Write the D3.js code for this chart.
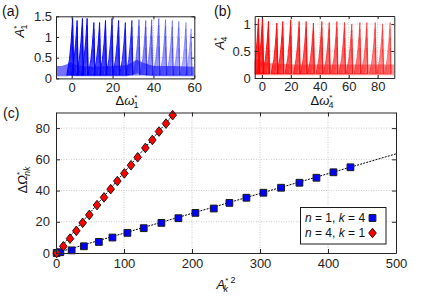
<!DOCTYPE html>
<html><head><meta charset="utf-8">
<script src="https://cdn.jsdelivr.net/npm/d3@7"></script>
<style>
body{margin:0;background:#fff}
svg{display:block;font-family:"Liberation Sans",Arial,sans-serif}
</style></head><body>
<svg id="c" width="424" height="299"></svg>
<script>
// ---------- data ----------
// panel (a): response peaks of mode 1
const aPeakX=[0.5,2.7,5.3,7.6,10.9,13.7,16.6,19.8,23,26.3,29.5,33,36.3,39.2,42.7,46,49.3,52.5,56,58.5];
const aPeakY=[1.45,1.4,1.45,1.45,1.35,1.35,1.4,1.45,1.4,1.35,1.4,1.42,1.4,1.42,1.45,1.42,1.4,1.38,1.35,1.2];
const aAlpha=[0.95,0.9,0.9,0.9,0.85,0.85,0.85,0.8,0.8,0.75,0.7,0.45,0.42,0.4,0.38,0.36,0.34,0.32,0.3,0.28];
const aBandX=[-7.7,-5,-2,-0.5,0.5,5,10,20,27,30,32,35,40,50,60];
const aBandLo=[0.05,0.05,0.05,0.08,0.05,0.05,0.05,0.05,0.05,0.1,0.12,0.08,0.05,0.05,0.05];
const aBandHi=[0.3,0.3,0.35,0.4,0.35,0.3,0.28,0.3,0.32,0.4,0.45,0.38,0.3,0.3,0.28];
const aXTicks=[0,20,40,60], aYTicks=[0,0.5,1,1.5];
// panel (b): response peaks of mode 4
const bPeakX=[-2.3,0.5,4.6,10.4,14.5,20,25.8,30.7,35.7,41.5,46.6,51.9,57.2,62.2,67.8,72.6,78.4,83.5,88.7];
const bPeakY=[1.1,1.12,1.05,1.02,1.05,1.08,1.05,1.05,1.02,1.05,1.03,1.05,1.03,1.0,1.03,1.03,1.03,1.0,1.03];
const bAlpha=[0.9,0.9,0.85,0.8,0.8,0.75,0.72,0.7,0.68,0.65,0.62,0.6,0.58,0.55,0.52,0.5,0.48,0.45,0.42];
const bBandX=[-5,-2,0,5,20,40,60,80,91.5];
const bBandLo=[0.05,0.05,0.05,0.05,0.05,0.05,0.05,0.05,0.05];
const bBandHi=[0.35,0.35,0.3,0.28,0.25,0.25,0.25,0.25,0.25];
const bXTicks=[0,20,40,60,80], bYTicks=[0,0.5,1];
// panel (c): frequency shift vs squared amplitude
const blueX=[1,6.4,23,41,63,83,105,129,155,180,205,232,255,280,305,331,358,383,408,433];
const blueY=[0,0.5,1.7,4.3,7.1,9.9,12.9,15.9,19.3,22.3,25.7,28.5,32.1,35.4,38.6,41.8,45,48.2,51.7,54.9];
const redX=[1,10.8,20.6,29.9,39.2,49,60.3,70.6,80.4,90.2,100.5,110.3,120.1,131.4,141.7,151.5,161.8,171.6];
const redY=[0,4.3,9.2,14.2,19.3,24.4,30.7,35.6,40.9,46.1,51,56.2,61.3,67.3,72.4,77.8,82.9,88.3];
const fitBlueX=[0,500], fitBlueY=[0,63.5];
const fitRedX=[0,172], fitRedY=[0,88.6];
const cXTicks=[0,100,200,300,400,500], cYTicks=[0,20,40,60,80];
const legendLabels=[["n"," = 1, ","k"," = 4"],["n"," = 4, ","k"," = 1"]];

// ---------- drawing ----------
const svg=d3.select("#c");
const fmt=d3.format("~g");
const axisCol="#262626";

function frame(g,x,y,xt,yt){
  const [x0,x1]=x.range(), [y0,y1]=y.range();
  g.append("g").selectAll("line").data(xt.filter(v=>v>x.domain()[0]&&v<x.domain()[1])).join("line")
    .attr("x1",d=>x(d)).attr("x2",d=>x(d)).attr("y1",y0).attr("y2",y1)
    .attr("stroke","#bdbdbd").attr("stroke-width",0.8).attr("stroke-dasharray","1,1.5");
  g.append("g").selectAll("line").data(yt.filter(v=>v>y.domain()[0]&&v<y.domain()[1])).join("line")
    .attr("x1",x0).attr("x2",x1).attr("y1",d=>y(d)).attr("y2",d=>y(d))
    .attr("stroke","#bdbdbd").attr("stroke-width",0.8).attr("stroke-dasharray","1,1.5");
}
function axes(g,x,y,xt,yt,tick,xpad,ypad){
  const [x0,x1]=x.range(), [y0,y1]=y.range();
  const st=s=>{s.select(".domain").attr("stroke",axisCol);s.selectAll(".tick line").attr("stroke",axisCol);
    s.selectAll("text").attr("fill","#262626").style("font-size","13px").style("font-family","'Liberation Sans',Arial,sans-serif");};
  g.append("g").attr("transform",`translate(0,${y0})`).call(d3.axisBottom(x).tickValues(xt).tickFormat(fmt).tickSizeInner(-tick).tickSizeOuter(0).tickPadding(xpad)).call(st);
  g.append("g").attr("transform",`translate(0,${y1})`).call(d3.axisTop(x).tickValues(xt).tickFormat("").tickSizeInner(-tick).tickSizeOuter(0)).call(st);
  g.append("g").attr("transform",`translate(${x0},0)`).call(d3.axisLeft(y).tickValues(yt).tickFormat(fmt).tickSizeInner(-tick).tickSizeOuter(0).tickPadding(ypad)).call(st);
  g.append("g").attr("transform",`translate(${x1},0)`).call(d3.axisRight(y).tickValues(yt).tickFormat("").tickSizeInner(-tick).tickSizeOuter(0)).call(st);
  g.selectAll(".domain").attr("stroke-width",1);
}

function tracePanel(id,x,y,px,py,al,bx,blo,bhi,col,wr,wd,bandOp){
  const g=svg.append("g");
  const [x0,x1]=x.range(), [y0,y1]=y.range();
  svg.append("clipPath").attr("id",id).append("rect").attr("x",x0).attr("y",y1).attr("width",x1-x0).attr("height",y0-y1);
  g.attr("clip-path",`url(#${id})`);
  const band=d3.area().x((d,i)=>x(bx[i])).y0((d,i)=>y(blo[i])).y1((d,i)=>y(bhi[i]));
  g.append("path").datum(bx).attr("d",band).attr("fill",col).attr("fill-opacity",bandOp);
  const line=d3.line().x(d=>x(d[0])).y(d=>y(d[1]));
  // shape fractions for each sweep (gradual rise, sudden drop)
  const sweeps=[[1,1,1],[0.8,0.88,0.7],[0.6,0.7,0.5],[0.4,0.5,0.35]];
  px.forEach((p,i)=>{
    const h=py[i], b=0.08;
    sweeps.forEach((s,k)=>{
      const hh=b+(h-b)*s[1], w=wr*s[0];
      const pts=[[p-w,b],[p-0.55*w,b+0.28*(hh-b)],[p-0.28*w,b+0.58*(hh-b)],[p-0.1*w,b+0.86*(hh-b)],[p-0.02*w,hh],[p+wd*s[2],b]];
      g.append("path").attr("d",line(pts)+(k===0?"Z":""))
        .attr("fill",k===0?col:"none").attr("fill-opacity",al[i]*0.55)
        .attr("stroke",col).attr("stroke-opacity",al[i]*(k===0?1:0.8)).attr("stroke-width",k===0?1:0.8);
    });
  });
  return g;
}

// ---- panel (a)
const xa=d3.scaleLinear().domain([-7.7,60]).range([56,194.3]);
const ya=d3.scaleLinear().domain([0,1.5]).range([78.4,16.3]);
frame(svg.append("g"),xa,ya,aXTicks,aYTicks);
tracePanel("clipa",xa,ya,aPeakX,aPeakY,aAlpha,aBandX,aBandLo,aBandHi,"#0000ff",2.9,0.5,0.55);
axes(svg.append("g"),xa,ya,aXTicks,aYTicks,3,4,4);

// ---- panel (b)
const xb=d3.scaleLinear().domain([-5,91.5]).range([254.7,394.3]);
const yb=d3.scaleLinear().domain([0,1.15]).range([78,16]);
frame(svg.append("g"),xb,yb,bXTicks,bYTicks);
tracePanel("clipb",xb,yb,bPeakX,bPeakY,bAlpha,bBandX,bBandLo,bBandHi,"#ff0000",4.0,0.7,0.4);
axes(svg.append("g"),xb,yb,bXTicks,bYTicks,3,4,4);

// ---- panel (c)
const xc=d3.scaleLinear().domain([0,500]).range([56,396]);
const yc=d3.scaleLinear().domain([0,90]).range([253,112.5]);
const gc=svg.append("g");
frame(gc,xc,yc,cXTicks,cYTicks);
const lineC=d3.line().x(d=>xc(d[0])).y(d=>yc(d[1]));
gc.append("path").attr("d",lineC(fitBlueX.map((v,i)=>[v,fitBlueY[i]]))).attr("stroke","#000").attr("stroke-width",1).attr("stroke-dasharray","2,1.2").attr("fill","none");
gc.append("path").attr("d",lineC(fitRedX.map((v,i)=>[v,fitRedY[i]]))).attr("stroke","#000").attr("stroke-width",1).attr("stroke-dasharray","2,1.2").attr("fill","none");
const sq=d3.symbol().type(d3.symbolSquare).size(46);
const dia=(cx,cy)=>`M${cx},${cy-4.8}L${cx+3.8},${cy}L${cx},${cy+4.8}L${cx-3.8},${cy}Z`;
gc.append("g").selectAll("path").data(blueX).join("path")
  .attr("d",sq).attr("transform",(d,i)=>`translate(${xc(d)},${yc(blueY[i])})`)
  .attr("fill","#0000ff").attr("stroke","#1a1a1a").attr("stroke-width",1);
gc.append("g").selectAll("path").data(redX).join("path")
  .attr("d",(d,i)=>dia(xc(d),yc(redY[i])))
  .attr("fill","#ff0000").attr("stroke","#1a1a1a").attr("stroke-width",1);
axes(svg.append("g"),xc,yc,cXTicks,cYTicks,4,6,6);

// legend
const lg=svg.append("g");
lg.append("rect").attr("x",300.5).attr("y",207.5).attr("width",85.5).attr("height",36.5)
  .attr("fill","#fff").attr("stroke","#1a1a1a").attr("stroke-width",1);
legendLabels.forEach((parts,i)=>{
  const t=lg.append("text").attr("x",305).attr("y",222+i*15).style("font-size","12px").attr("fill","#111");
  parts.forEach((p,j)=>t.append("tspan").text(p).style("font-style",j%2===0?"italic":"normal"));
});
lg.append("path").attr("d",sq).attr("transform","translate(372.5,218)").attr("fill","#0000ff").attr("stroke","#1a1a1a");
lg.append("path").attr("d",dia(372.5,233)).attr("fill","#ff0000").attr("stroke","#1a1a1a");

// ---------- text labels ----------
function lab(x,y,txt,size){svg.append("text").attr("x",x).attr("y",y).text(txt).style("font-size",size+"px").attr("fill","#111");}
lab(2,16,"(a)",14); lab(214,16,"(b)",14); lab(3,118,"(c)",14);

function symLabel(x,y,rot,parts){
  const t=svg.append("text").attr("transform",`translate(${x},${y}) rotate(${rot})`).attr("text-anchor","middle").attr("fill","#111").style("font-size","13px");
  parts.forEach(p=>{const s=t.append("tspan").text(p.t);
    if(p.i) s.style("font-style","italic");
    if(p.fs) s.style("font-size",p.fs+"px");
    if(p.dx) s.attr("dx",p.dx);
    if(p.dy) s.attr("dy",p.dy);});
}
symLabel(127,105,0,[{t:"Δ"},{t:"ω",i:1},{t:"*",fs:8,dy:-5},{t:"1",fs:9,dx:-4,dy:8}]);
symLabel(322,105,0,[{t:"Δ"},{t:"ω",i:1},{t:"*",fs:8,dy:-5},{t:"4",fs:9,dx:-4,dy:8}]);
symLabel(24,31,-90,[{t:"A",i:1},{t:"*",fs:8,dy:-5},{t:"1",fs:9,dx:-4,dy:8}]);
symLabel(224,43,-90,[{t:"A",i:1},{t:"*",fs:8,dy:-5},{t:"4",fs:9,dx:-4,dy:8}]);
symLabel(27,180,-90,[{t:"Δ"},{t:"Ω",i:1},{t:"*",fs:8,dy:-5},{t:"nk",i:1,fs:9,dx:-4,dy:8}]);
symLabel(226,289,0,[{t:"A",i:1},{t:"*",fs:8,dy:-6},{t:"2",fs:9,dx:2,dy:0},{t:"k",i:1,fs:9,dx:-12,dy:9}]);
</script></body></html>
